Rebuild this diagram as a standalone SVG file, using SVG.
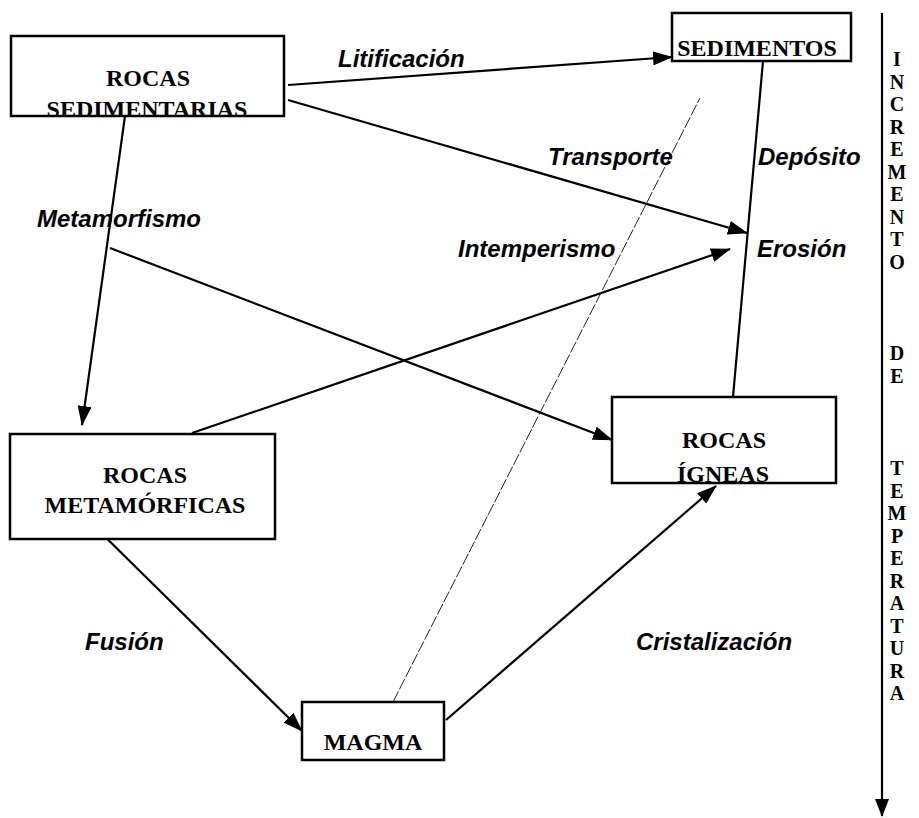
<svg xmlns="http://www.w3.org/2000/svg" width="919" height="818" viewBox="0 0 919 818">
<style>
.box{fill:#fff;stroke:#000;stroke-width:2.5}
.bt{font-family:"Liberation Serif","Times New Roman",serif;font-weight:bold;font-size:24px;fill:#000;text-anchor:middle}
.lb{font-family:"Liberation Sans",Arial,sans-serif;font-weight:bold;font-style:italic;font-size:24px;fill:#000}
.ax{font-family:"Liberation Serif","Times New Roman",serif;font-weight:bold;font-size:20px;fill:#000;text-anchor:middle}
.ln{stroke:#000;stroke-width:2.2;fill:none}
.th{stroke:#222;stroke-width:1;fill:none;stroke-dasharray:12 2}
</style>
<defs>
<marker id="ah" viewBox="0 0 20 14" refX="19" refY="7" markerWidth="20" markerHeight="14" markerUnits="userSpaceOnUse" orient="auto"><path d="M0,0 L20,7 L0,14 z" fill="#000"/></marker>
<marker id="ax" viewBox="0 0 18 14" refX="17" refY="7" markerWidth="18" markerHeight="14" markerUnits="userSpaceOnUse" orient="auto"><path d="M0,0 L18,7 L0,14 z" fill="#000"/></marker>
</defs>
<rect width="919" height="818" fill="#fff"/>
<g id="connectors">
<line class="ln" x1="288" y1="85" x2="672" y2="57" marker-end="url(#ah)"/>
<line class="ln" x1="288" y1="100" x2="747" y2="233" marker-end="url(#ah)"/>
<line class="ln" x1="192" y1="433" x2="730" y2="249" marker-end="url(#ah)"/>
<line class="ln" x1="125" y1="116" x2="82" y2="425" marker-end="url(#ah)"/>
<line class="ln" x1="110" y1="248" x2="612" y2="440" marker-end="url(#ah)"/>
<line class="ln" x1="83" y1="515" x2="302" y2="731" marker-end="url(#ah)"/>
<line class="ln" x1="446" y1="720" x2="716" y2="486" marker-end="url(#ah)"/>
<line class="th" x1="393" y1="702" x2="700" y2="98"/>
<line class="ln" x1="763" y1="61" x2="733" y2="397"/>
<line class="ln" x1="882" y1="13" x2="882" y2="816" marker-end="url(#ax)"/>
</g>
<g id="labels">
<text class="lb" x="338" y="67">Litificación</text>
<text class="lb" x="548" y="165">Transporte</text>
<text class="lb" x="758" y="165">Depósito</text>
<text class="lb" x="37" y="227">Metamorfismo</text>
<text class="lb" x="458" y="257">Intemperismo</text>
<text class="lb" x="757" y="257">Erosión</text>
<text class="lb" x="85" y="650">Fusión</text>
<text class="lb" x="636" y="650">Cristalización</text>
</g>
<g id="rocas-sedimentarias">
<rect class="box" x="11" y="36" width="273" height="80"/>
<text class="bt" x="148" y="86">ROCAS</text>
<text class="bt" x="147" y="117">SEDIMENTARIAS</text>
</g>
<g id="sedimentos">
<rect class="box" x="672" y="13" width="179" height="48"/>
<text class="bt" x="757" y="56">SEDIMENTOS</text>
</g>
<g id="rocas-metamorficas">
<rect class="box" x="10" y="434" width="265" height="105"/>
<text class="bt" x="145" y="483">ROCAS</text>
<text class="bt" x="145" y="513">METAMÓRFICAS</text>
</g>
<g id="rocas-igneas">
<rect class="box" x="612" y="397" width="224" height="86"/>
<text class="bt" x="724" y="448">ROCAS</text>
<text class="bt" x="723" y="482">ÍGNEAS</text>
</g>
<g id="magma">
<rect class="box" x="302" y="702" width="142" height="58"/>
<text class="bt" x="373" y="750">MAGMA</text>
</g>
<g id="axis-label">
<text class="ax" x="897" y="66">I</text>
<text class="ax" x="897" y="88.5">N</text>
<text class="ax" x="897" y="111">C</text>
<text class="ax" x="897" y="133.5">R</text>
<text class="ax" x="897" y="156">E</text>
<text class="ax" x="897" y="178.5">M</text>
<text class="ax" x="897" y="201">E</text>
<text class="ax" x="897" y="223.5">N</text>
<text class="ax" x="897" y="246">T</text>
<text class="ax" x="897" y="268.5">O</text>
<text class="ax" x="897" y="360">D</text>
<text class="ax" x="897" y="382.5">E</text>
<text class="ax" x="897" y="475">T</text>
<text class="ax" x="897" y="497.5">E</text>
<text class="ax" x="897" y="520">M</text>
<text class="ax" x="897" y="542.5">P</text>
<text class="ax" x="897" y="565">E</text>
<text class="ax" x="897" y="587.5">R</text>
<text class="ax" x="897" y="610">A</text>
<text class="ax" x="897" y="632.5">T</text>
<text class="ax" x="897" y="655">U</text>
<text class="ax" x="897" y="677.5">R</text>
<text class="ax" x="897" y="700">A</text>
</g>
</svg>
